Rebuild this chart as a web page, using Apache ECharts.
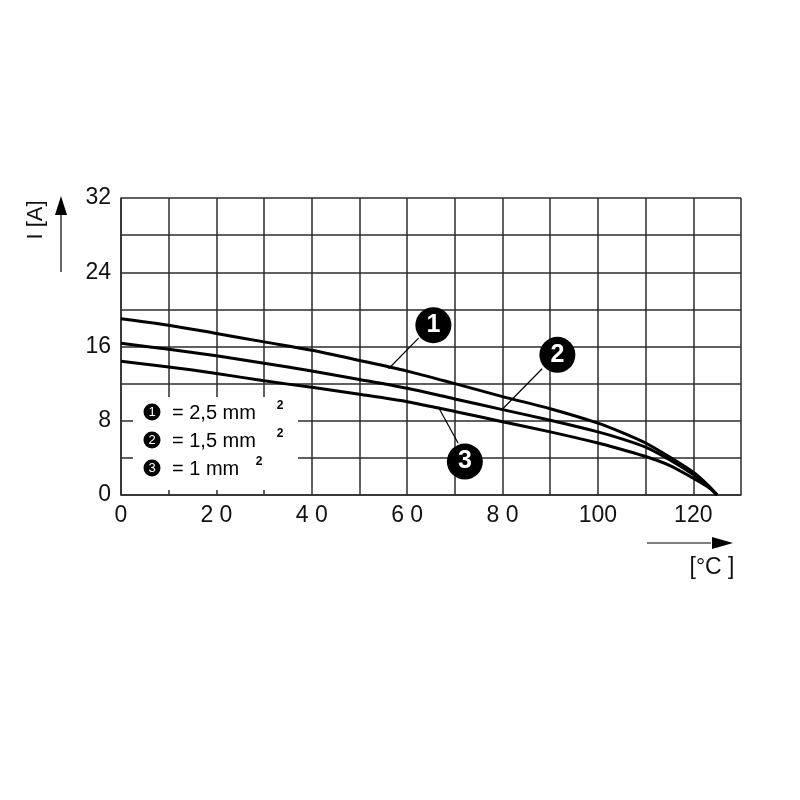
<!DOCTYPE html>
<html>
<head>
<meta charset="utf-8">
<script src="https://cdn.jsdelivr.net/npm/echarts@6/dist/echarts.min.js"></script>
<style>
html,body{margin:0;padding:0;background:#fff;}
#main{width:800px;height:800px;}
</style>
</head>
<body>
<div id="main"></div>
<script>
// ---- data ----
var temps = [0, 10, 20, 30, 40, 50, 60, 70, 80, 90, 100, 105, 110, 115, 120, 123, 125];
var curve1 = [19.0, 18.3, 17.4, 16.5, 15.6, 14.5, 13.35, 12.0, 10.6, 9.3, 7.75, 6.75, 5.6, 4.1, 2.45, 1.1, 0];
var curve2 = [16.35, 15.7, 15.0, 14.2, 13.35, 12.45, 11.5, 10.35, 9.2, 8.05, 6.8, 6.05, 5.15, 3.8, 2.2, 1.0, 0];
var curve3 = [14.4, 13.8, 13.1, 12.3, 11.6, 10.85, 10.05, 9.0, 7.9, 6.8, 5.6, 4.9, 4.15, 3.2, 1.8, 0.9, 0];
var xTickValues = [0, 20, 40, 60, 80, 100, 120];
var xTickLabels = ['0', '2 0', '4 0', '6 0', '8 0', '100', '120'];
var yTickValues = [0, 8, 16, 24, 32];
var yTickLabels = ['0', '8', '16', '24', '32'];
var legendNums = ['1', '2', '3'];
var legendTexts = ['= 2,5 mm', '= 1,5 mm', '= 1 mm'];
var calloutNums = ['1', '2', '3'];
var calloutPos = [[65.5, 18.3], [91.5, 15.1], [72.1, 3.6]];
var leaderStart = [[62.4, 16.9], [88.3, 13.6], [70.7, 5.57]];
var leaderEnd = [[56.1, 13.6], [79.8, 9.16], [66.5, 9.5]];
var xTitle = '[°C ]';
var yTitle = 'I [A]';

function pairs(ys) { return temps.map(function (t, i) { return [t, ys[i]]; }); }

var chart = echarts.init(document.getElementById('main'));
var narrow = '"Liberation Sans Narrow", "Arial Narrow", "Liberation Sans", sans-serif';
var sans = '"Liberation Sans", Arial, sans-serif';
var gridColor = '#2b2b2b';

var lineCommon = {
  type: 'line', smooth: 0.3, showSymbol: false, symbol: 'none', z: 5,
  lineStyle: { color: '#000', width: 3 }, silent: true
};

var option = {
  animation: false,
  backgroundColor: '#fff',
  grid: { left: 121, top: 198, right: 59, bottom: 305, show: false },
  xAxis: {
    type: 'value', min: 0, max: 130, interval: 10,
    axisLine: { show: true, onZero: false, lineStyle: { color: gridColor, width: 1.5 } },
    axisTick: { show: false },
    splitLine: { show: true, lineStyle: { color: gridColor, width: 1.5 } },
    axisLabel: {
      margin: 9, color: '#111', fontSize: 23, fontFamily: narrow,
      formatter: function (v) { var i = xTickValues.indexOf(v); return i >= 0 ? xTickLabels[i] : ''; }
    }
  },
  yAxis: {
    type: 'value', min: 0, max: 32, interval: 4,
    axisLine: { show: true, onZero: false, lineStyle: { color: gridColor, width: 1.5 } },
    axisTick: { show: false },
    splitLine: { show: true, lineStyle: { color: gridColor, width: 1.5 } },
    axisLabel: {
      margin: 10, color: '#111', fontSize: 23, fontFamily: narrow,
      formatter: function (v) { var i = yTickValues.indexOf(v); return i >= 0 ? yTickLabels[i] : ''; }
    }
  },
  series: [
    Object.assign({ name: 'c1', data: pairs(curve1) }, lineCommon),
    Object.assign({ name: 'c2', data: pairs(curve2) }, lineCommon),
    Object.assign({ name: 'c3', data: pairs(curve3) }, lineCommon),
    {
      type: 'scatter', z: 6, silent: true,
      symbol: 'circle', symbolSize: 36,
      itemStyle: { color: '#000', opacity: 1 },
      label: {
        show: true, position: 'inside', color: '#fff', fontSize: 25, fontWeight: 'bold',
        fontFamily: sans,
        formatter: function (p) { return calloutNums[p.dataIndex]; }
      },
      data: calloutPos,
      markLine: {
        silent: true, symbol: ['none', 'none'], animation: false,
        lineStyle: { color: '#000', width: 1.2, type: 'solid', opacity: 1 },
        label: { show: false },
        data: leaderStart.map(function (s, i) {
          return [{ coord: s }, { coord: leaderEnd[i] }];
        })
      }
    }
  ]
};
chart.setOption(option);

// ---- decorations (legend box, axis titles, arrows) ----
var p00 = chart.convertToPixel({ gridIndex: 0 }, [0, 0]);
var pTop = chart.convertToPixel({ gridIndex: 0 }, [130, 32]);
var L = p00[0], B = p00[1], R = pTop[0], T = pTop[1];

var g = [];
var bx = L + 12, by = B - 98;
g.push({ type: 'rect', shape: { x: bx, y: by, width: 165, height: 93 }, style: { fill: '#fff' }, z: 2 });
for (var i = 0; i < 3; i++) {
  var cy = by + 15 + i * 28;
  g.push({ type: 'circle', shape: { cx: bx + 19, cy: cy, r: 8.5 }, style: { fill: '#000' }, z: 3 });
  g.push({ type: 'text', x: bx + 19, y: cy + 0.5, z: 4,
    style: { text: legendNums[i], fill: '#fff', fontSize: 13, fontFamily: sans,
      align: 'center', verticalAlign: 'middle' } });
  g.push({ type: 'text', x: bx + 39, y: cy + 1, z: 4,
    style: { text: legendTexts[i], fill: '#000', fontSize: 20, fontFamily: sans,
      align: 'left', verticalAlign: 'middle' } });
  var supX = (i === 2) ? bx + 126 : bx + 147;
  g.push({ type: 'text', x: supX, y: cy - 6, z: 4,
    style: { text: '2', fill: '#000', fontSize: 12, fontWeight: 'bold', fontFamily: sans,
      align: 'center', verticalAlign: 'middle' } });
}
// y axis arrow and title
g.push({ type: 'line', shape: { x1: L - 60, y1: T + 74, x2: L - 60, y2: T + 14 }, style: { stroke: '#000', lineWidth: 1.2 }, z: 4 });
g.push({ type: 'polygon', shape: { points: [[L - 60, T - 2], [L - 66, T + 17], [L - 54, T + 17]] }, style: { fill: '#000' }, z: 4 });
g.push({ type: 'text', x: L - 85, y: T + 22, rotation: Math.PI / 2, z: 4,
  style: { text: yTitle, fill: '#111', fontSize: 22, fontFamily: narrow, align: 'center', verticalAlign: 'middle' } });
// x axis arrow and title
g.push({ type: 'line', shape: { x1: R - 94, y1: B + 48, x2: R - 30, y2: B + 48 }, style: { stroke: '#000', lineWidth: 1.2 }, z: 4 });
g.push({ type: 'polygon', shape: { points: [[R - 8, B + 48], [R - 29, B + 42], [R - 29, B + 54]] }, style: { fill: '#000' }, z: 4 });
g.push({ type: 'text', x: R - 29, y: B + 73, z: 4,
  style: { text: xTitle, fill: '#111', fontSize: 23, fontFamily: narrow, align: 'center', verticalAlign: 'middle' } });

chart.setOption({ graphic: { elements: g } });
</script>
</body>
</html>
